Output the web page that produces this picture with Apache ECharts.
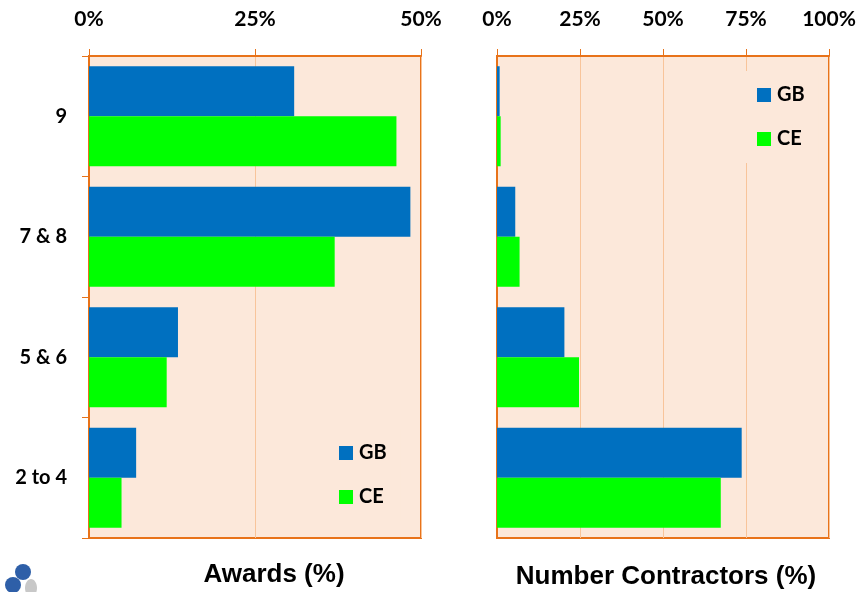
<!DOCTYPE html>
<html>
<head>
<meta charset="utf-8">
<script src="https://cdn.jsdelivr.net/npm/echarts@6/dist/echarts.min.js"></script>
<style>
  html, body { margin: 0; padding: 0; background: #fff; }
  #main { width: 861px; height: 592px; }
</style>
</head>
<body>
<div id="main"></div>
<script>
// categories, top to bottom
var categories = ['9', '7 & 8', '5 & 6', '2 to 4'];

// awards (%)
var awardsGB = [30.9, 48.4, 13.4, 7.1];
var awardsCE = [46.3, 37.0, 11.7, 4.9];

// number of contractors (%)
var contractorsGB = [0.8, 5.5, 20.3, 73.7];
var contractorsCE = [1.1, 6.8, 24.7, 67.4];

var seriesNames = ['GB', 'CE'];
var titles = ['Awards (%)', 'Number Contractors (%)'];

var orange = '#E8731A';
var plotBg = '#FCE8DA';
var gridLine = '#F8C49A';
var colGB = '#0070C0';
var colCE = '#00FF00';

var chart = echarts.init(document.getElementById('main'));

function valueAxis(idx, max) {
    return {
        type: 'value',
        gridIndex: idx,
        position: 'top',
        min: 0,
        max: max,
        interval: 25,
        axisLine: { show: true, lineStyle: { color: orange, width: 2 } },
        axisTick: { show: true, length: 7, lineStyle: { color: orange, width: 1 } },
        axisLabel: {
            margin: 26,
            formatter: '{value}%',
            color: '#000',
            fontFamily: 'Lato',
            fontWeight: 'bold',
            fontSize: 21
        },
        splitLine: { show: true, lineStyle: { color: gridLine, width: 1 } }
    };
}

function catAxis(idx, withLabels) {
    return {
        type: 'category',
        gridIndex: idx,
        data: categories,
        inverse: true,
        axisLine: { show: true, lineStyle: { color: orange, width: 2 } },
        axisTick: { show: withLabels, length: 7, lineStyle: { color: orange, width: 1 } },
        axisLabel: {
            show: withLabels,
            margin: 22,
            color: '#000',
            fontFamily: 'Lato',
            fontWeight: 'bold',
            fontSize: 20
        }
    };
}

function legend(idx, left, top) {
    return {
        data: seriesNames,
        orient: 'vertical',
        left: left,
        top: top,
        itemWidth: 14,
        itemHeight: 14,
        itemGap: 24,
        icon: 'rect',
        selectedMode: false,
        backgroundColor: plotBg,
        padding: [14, 14, 14, 12],
        textStyle: {
            color: '#000',
            fontFamily: 'Lato',
            fontWeight: 'bold',
            fontSize: 20,
            padding: [0, 0, 0, 1]
        }
    };
}

function bar(name, color, idx, data) {
    return {
        name: name,
        type: 'bar',
        xAxisIndex: idx,
        yAxisIndex: idx,
        data: data,
        barCategoryGap: '17%',
        barGap: '0%',
        itemStyle: { color: color },
        animation: false
    };
}

var option = {
    animation: false,
    grid: [
        { left: 89, top: 56, width: 332, height: 482, show: true,
          backgroundColor: plotBg, borderColor: orange, borderWidth: 2 },
        { left: 497, top: 56, width: 332, height: 482, show: true,
          backgroundColor: plotBg, borderColor: orange, borderWidth: 2 }
    ],
    xAxis: [valueAxis(0, 50), valueAxis(1, 100)],
    yAxis: [catAxis(0, true), catAxis(1, false)],
    legend: [legend(0, 327, 429), legend(1, 745, 71)],
    title: [
        { text: titles[0], left: 269, top: 557, textAlign: 'center',
          textStyle: { fontFamily: 'Liberation Sans', fontWeight: 'bold', fontSize: 26, color: '#000' } },
        { text: titles[1], left: 661, top: 559, textAlign: 'center',
          textStyle: { fontFamily: 'Liberation Sans', fontWeight: 'bold', fontSize: 26, color: '#000' } }
    ],
    graphic: [
        { type: 'circle', shape: { cx: 23, cy: 572, r: 8 }, style: { fill: '#2E5FA8' } },
        { type: 'ellipse', shape: { cx: 31, cy: 588, rx: 6, ry: 9 }, style: { fill: '#C8C8C8' } },
        { type: 'circle', shape: { cx: 13, cy: 585, r: 8 }, style: { fill: '#2E5FA8' } }
    ],
    series: [
        bar('GB', colGB, 0, awardsGB),
        bar('CE', colCE, 0, awardsCE),
        bar('GB', colGB, 1, contractorsGB),
        bar('CE', colCE, 1, contractorsCE)
    ]
};

chart.setOption(option);
</script>
</body>
</html>
